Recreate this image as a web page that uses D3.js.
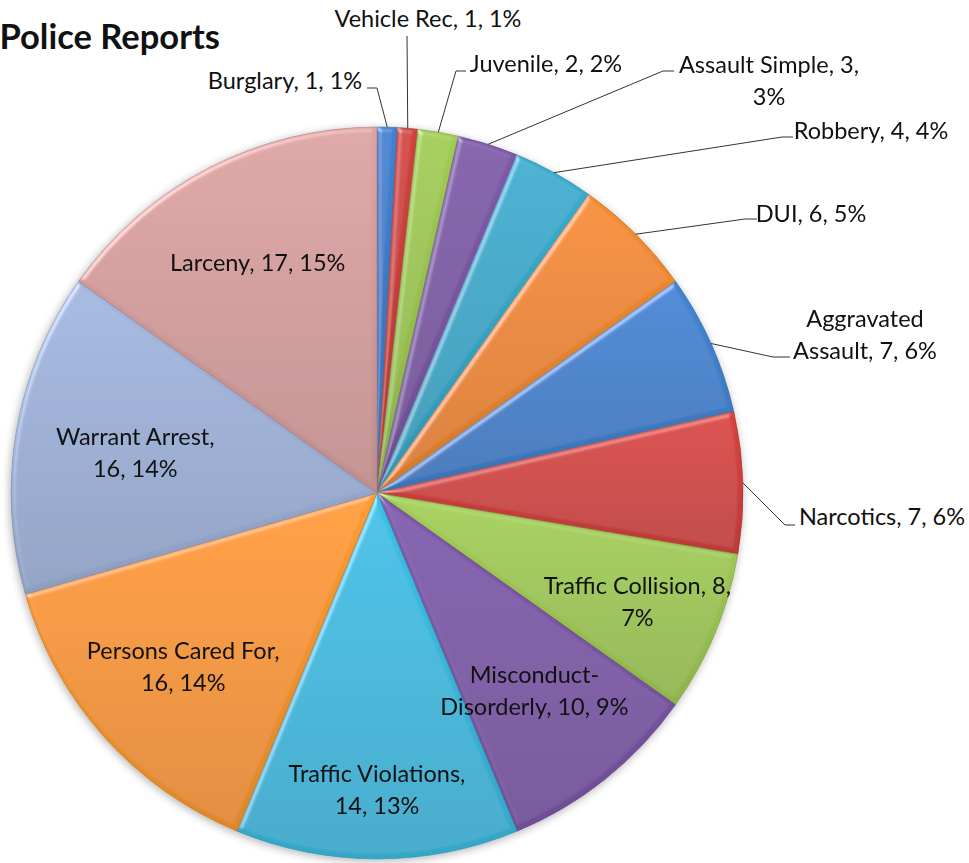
<!DOCTYPE html>
<html>
<head>
<meta charset="utf-8">
<style>
  body { margin: 0; background: #fff; }
  svg { display: block; font-family: Lato, 'Open Sans', sans-serif; }
</style>
</head>
<body>
<script src="https://d3js.org/d3.v7.min.js"></script>
<script>
  // data, clockwise from 12 o'clock
  const categories = ['Burglary', 'Vehicle Rec', 'Juvenile', 'Assault Simple', 'Robbery', 'DUI',
    'Aggravated Assault', 'Narcotics', 'Traffic Collision', 'Misconduct-Disorderly',
    'Traffic Violations', 'Persons Cared For', 'Warrant Arrest', 'Larceny'];
  const counts = [1, 1, 2, 3, 4, 6, 7, 7, 8, 10, 14, 16, 16, 17];
  const title = 'Police Reports';

  // styling
  const sliceColors = ['#3d7cc8', '#c93f3c', '#9bc44f', '#7b57a3', '#37a7c8', '#ec872c',
    '#3f80cc', '#d0413e', '#9ec753', '#7b56a6', '#3ab9de', '#f7962f', '#9cb0d6', '#d49d9c'];

  // where Excel wraps a label (number of break points on the first line)
  const breakAfter = {
    'Assault Simple': 3, 'Aggravated Assault': 1, 'Traffic Collision': 3,
    'Misconduct-Disorderly': 1, 'Traffic Violations': 2, 'Persons Cared For': 3, 'Warrant Arrest': 2
  };
  // labels drawn inside a slice: fraction of radius for the label centre
  const insideAt = {
    'Traffic Collision': 0.77, 'Misconduct-Disorderly': 0.69, 'Traffic Violations': 0.81,
    'Persons Cared For': 0.71, 'Warrant Arrest': 0.67, 'Larceny': 0.71
  };
  // labels drawn outside: text centre, elbow of the leader line, end of the short tick
  const outsideAt = {
    'Burglary':           { text: [285, 80],  elbow: [377, 88],  tick: 367 },
    'Vehicle Rec':        { text: [428, 18],  elbow: [407, 36],  tick: 407 },
    'Juvenile':           { text: [546, 63],  elbow: [456, 71],  tick: 466 },
    'Assault Simple':     { text: [769, 80],  elbow: [663, 71],  tick: 674 },
    'Robbery':            { text: [871, 130], elbow: [782, 137], tick: 793 },
    'DUI':                { text: [811, 213], elbow: [745, 219], tick: 757 },
    'Aggravated Assault': { text: [865, 334], elbow: [773, 357], tick: 790 },
    'Narcotics':          { text: [882, 516], elbow: [785, 525], tick: 795 }
  };

  const width = 969, height = 863;
  const cx = 377, cy = 493, radius = 366;
  const lineHeight = 32;
  const labelSize = 23.5;

  function wrapLabel(text, n) {
    if (!n) return [text];
    const re = /\s|-/g;
    let m, k = 0;
    while ((m = re.exec(text)) !== null) {
      k++;
      if (k === n) {
        const i = m.index;
        if (text[i] === '-') return [text.slice(0, i + 1), text.slice(i + 1)];
        return [text.slice(0, i), text.slice(i + 1)];
      }
    }
    return [text];
  }

  function writeLines(sel) {
    sel.each(function(d) {
      const lines = wrapLabel(`${d.data.name}, ${d.data.value}, ${d.data.pct}%`, breakAfter[d.data.name]);
      d3.select(this).selectAll('tspan')
        .data(lines)
        .join('tspan')
        .attr('x', 0)
        .attr('y', (l, i) => (i - (lines.length - 1) / 2) * lineHeight)
        .attr('dominant-baseline', 'central')
        .text(l => l);
    });
  }

  const total = d3.sum(counts);
  const data = categories.map((name, i) => ({
    name, value: counts[i], pct: Math.round(counts[i] / total * 100)
  }));

  const svg = d3.select('body').append('svg')
    .attr('width', width)
    .attr('height', height);

  const color = d3.scaleOrdinal().domain(categories).range(sliceColors);

  const defs = svg.append('defs');

  defs.selectAll('linearGradient')
    .data(categories)
    .join('linearGradient')
    .attr('id', (d, i) => 'grad' + i)
    .attr('x1', 0).attr('y1', 0).attr('x2', 0).attr('y2', 1)
    .selectAll('stop')
    .data(d => [[0, d3.color(color(d)).brighter(0.1)], [1, d3.color(color(d)).darker(0.3)]])
    .join('stop')
    .attr('offset', d => d[0])
    .attr('stop-color', d => d[1]);

  // soft bevel on every slice
  const bevel = defs.append('filter').attr('id', 'bevel')
    .attr('x', '-10%').attr('y', '-10%').attr('width', '120%').attr('height', '120%');
  bevel.append('feGaussianBlur').attr('in', 'SourceAlpha').attr('stdDeviation', 2.5).attr('result', 'blur');
  bevel.append('feSpecularLighting')
    .attr('in', 'blur').attr('surfaceScale', 3).attr('specularConstant', 0.8)
    .attr('specularExponent', 20).attr('lighting-color', '#ffffff').attr('result', 'spec')
    .append('feDistantLight').attr('azimuth', 225).attr('elevation', 35);
  bevel.append('feComposite').attr('in', 'spec').attr('in2', 'SourceAlpha').attr('operator', 'in').attr('result', 'specIn');
  bevel.append('feComposite').attr('in', 'SourceGraphic').attr('in2', 'specIn')
    .attr('operator', 'arithmetic').attr('k1', 0).attr('k2', 1).attr('k3', 0.45).attr('k4', 0);

  const shadow = defs.append('filter').attr('id', 'shadow')
    .attr('x', '-10%').attr('y', '-10%').attr('width', '120%').attr('height', '120%');
  shadow.append('feDropShadow').attr('dx', -1).attr('dy', 2).attr('stdDeviation', 4)
    .attr('flood-color', '#000').attr('flood-opacity', 0.3);

  const pie = d3.pie().value(d => d.value).sort(null);
  const arcs = pie(data);
  const arc = d3.arc().innerRadius(0).outerRadius(radius);

  const chart = svg.append('g')
    .attr('transform', `translate(${cx},${cy})`);

  chart.append('g')
    .attr('filter', 'url(#shadow)')
    .selectAll('path')
    .data(arcs)
    .join('path')
    .attr('d', arc)
    .attr('fill', (d, i) => `url(#grad${i})`)
    .attr('stroke', d => d3.color(color(d.data.name)).darker(0.7))
    .attr('stroke-width', 0.6)
    .attr('filter', 'url(#bevel)');

  // inside labels
  const inside = arcs.filter(d => insideAt[d.data.name]);
  chart.append('g')
    .selectAll('text')
    .data(inside)
    .join('text')
    .attr('transform', d => {
      const r = radius * insideAt[d.data.name];
      const c = d3.arc().innerRadius(r).outerRadius(r).centroid(d);
      return `translate(${c[0]},${c[1]})`;
    })
    .attr('text-anchor', 'middle')
    .attr('font-size', labelSize)
    .attr('fill', '#111')
    .call(writeLines);

  // outside labels with leader lines
  const outside = arcs.filter(d => outsideAt[d.data.name]);
  const leaders = svg.append('g')
    .attr('fill', 'none')
    .attr('stroke', '#333')
    .attr('stroke-width', 1);

  leaders.selectAll('path')
    .data(outside)
    .join('path')
    .attr('d', d => {
      const a = (d.startAngle + d.endAngle) / 2;
      const rim = [cx + Math.sin(a) * radius, cy - Math.cos(a) * radius];
      const o = outsideAt[d.data.name];
      return d3.line()([rim, o.elbow, [o.tick, o.elbow[1]]]);
    });

  svg.append('g')
    .selectAll('text')
    .data(outside)
    .join('text')
    .attr('transform', d => `translate(${outsideAt[d.data.name].text})`)
    .attr('text-anchor', 'middle')
    .attr('font-size', labelSize)
    .attr('fill', '#111')
    .call(writeLines);

  svg.append('text')
    .attr('x', 220)
    .attr('y', 49)
    .attr('text-anchor', 'end')
    .attr('font-size', 34.5)
    .attr('font-weight', 'bold')
    .attr('fill', '#111')
    .text(title);
</script>
</body>
</html>
